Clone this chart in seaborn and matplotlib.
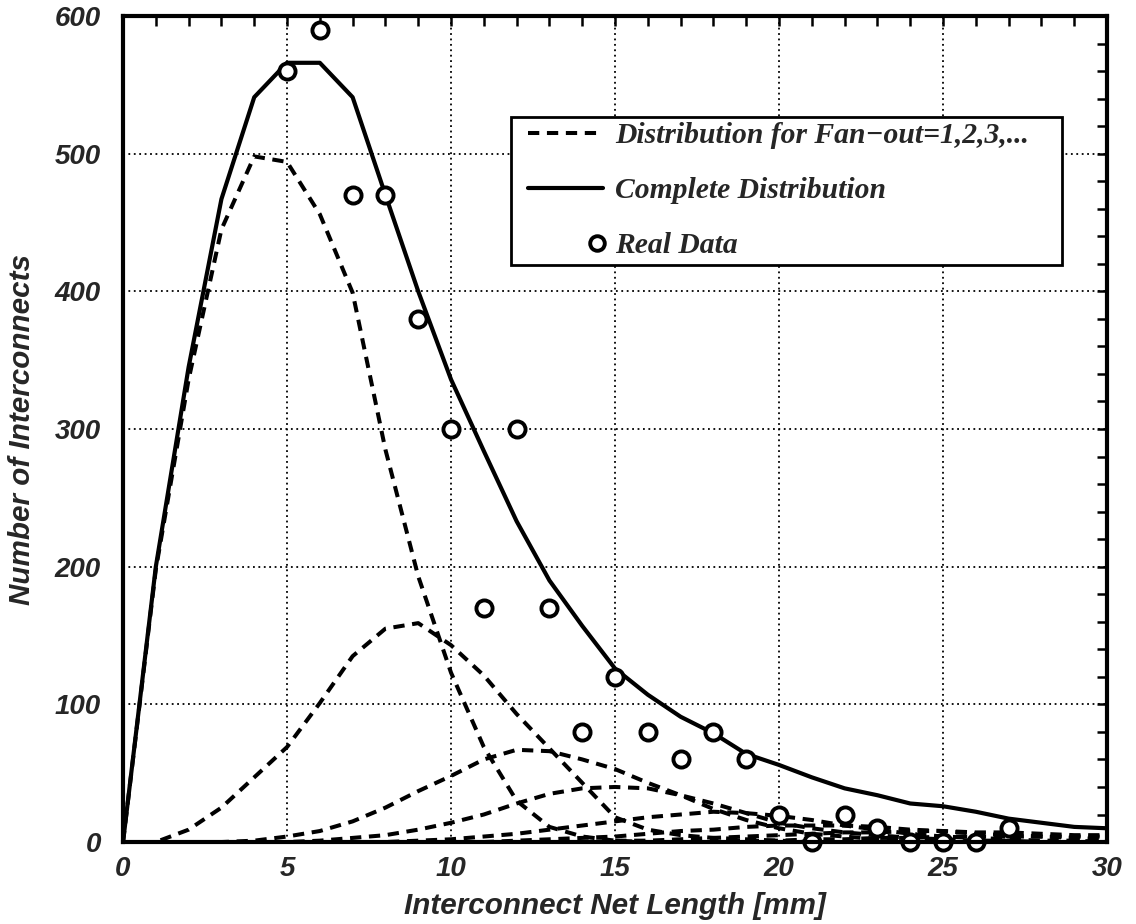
import matplotlib
matplotlib.use("Agg")
import matplotlib.pyplot as plt
import numpy as np
import pandas as pd
import seaborn as sns
from matplotlib.ticker import MultipleLocator
from matplotlib.lines import Line2D
from matplotlib.legend_handler import HandlerLine2D

# Interconnect net length grid [mm]
net_length = list(range(0, 31))

# Complete (summed) wire-length distribution
complete = [0, 200, 345, 467, 541, 566, 566, 541, 470, 400, 336, 284, 233, 190,
            157, 126, 107, 91, 79, 64, 56, 47, 39, 34, 28, 26, 22, 17, 14, 11, 10]

# Partial distributions for fan-out = 1, 2, 3, ...
fanout_1 = [0, 198, 336, 445, 498, 494, 456, 399, 285, 193, 123, 69, 30, 11, 4, 1,
            0, 0, 0, 0, 0, 0, 0, 0, 0, 0, 0, 0, 0, 0, 0]
fanout_2 = [0, 0, 9, 25, 47, 69, 101, 135, 155, 159, 143, 121, 93, 68, 43, 18, 9, 5,
            3, 2, 1, 0, 0, 0, 0, 0, 0, 0, 0, 0, 0]
fanout_3 = [0, 0, 0, 0, 1, 4, 8, 15, 25, 37, 48, 60, 67, 66, 60, 53, 43, 34, 24, 16,
            10, 6, 4, 2, 1, 1, 0, 0, 0, 0, 0]
fanout_4 = [0, 0, 0, 0, 0, 0, 1, 3, 5, 9, 14, 20, 28, 35, 39, 40, 39, 34, 28, 21, 14,
            10, 7, 5, 3, 2, 1, 1, 0, 0, 0]
fanout_5 = [0, 0, 0, 0, 0, 0, 0, 0, 0, 1, 2, 4, 6, 9, 12, 15, 18, 20, 22, 21, 19, 16,
            12, 9, 6, 4, 3, 2, 1, 1, 0]
fanout_6 = [0, 0, 0, 0, 0, 0, 0, 0, 0, 0, 0, 0, 1, 2, 3, 4, 6, 8, 9, 11, 12, 12, 12,
            11, 9, 8, 6, 5, 4, 3, 2]
fanout_7 = [0, 0, 0, 0, 0, 0, 0, 0, 0, 0, 0, 0, 0, 0, 0, 1, 1, 2, 3, 4, 5, 6, 7, 7, 8,
            8, 7, 7, 6, 5, 5]
fanout_8 = [0, 0, 0, 0, 0, 0, 0, 0, 0, 0, 0, 0, 0, 0, 0, 0, 0, 0, 0, 1, 1, 2, 2, 3, 3,
            4, 4, 4, 4, 4, 4]

# Measured net-length histogram
real_length = list(range(5, 28))
real_count = [560, 590, 470, 470, 380, 300, 170, 300, 170, 80, 120, 80, 60, 80, 60,
              20, 0, 20, 10, 0, 0, 0, 10]

legend_labels = ["Distribution for Fan\u2212out=1,2,3,...",
                 "Complete Distribution",
                 "Real Data"]
x_label = "Interconnect Net Length [mm]"
y_label = "Number of Interconnects"

fanouts = [fanout_1, fanout_2, fanout_3, fanout_4,
           fanout_5, fanout_6, fanout_7, fanout_8]
partial_df = pd.DataFrame({
    "length": np.tile(net_length, len(fanouts)),
    "count": np.concatenate(fanouts),
    "fanout": np.repeat(np.arange(1, len(fanouts) + 1), len(net_length)),
})
complete_df = pd.DataFrame({"length": net_length, "count": complete})
real_df = pd.DataFrame({"length": real_length, "count": real_count})


class InsetLineHandler(HandlerLine2D):
    """Legend handler for lines that leaves a left margin in the handle slot."""

    def __init__(self, lead=0.14, **kw):
        super().__init__(**kw)
        self.lead = lead

    def get_xdata(self, legend, xdescent, ydescent, width, height, fontsize):
        x0 = -xdescent + width * self.lead
        x1 = -xdescent + width
        return np.array([x0, x1]), [(x0 + x1) / 2]


class EndMarkerHandler(HandlerLine2D):
    """Legend handler that puts a single marker near the right end of the slot."""

    def __init__(self, marker_at=0.935, **kw):
        super().__init__(**kw)
        self.marker_at = marker_at

    def get_xdata(self, legend, xdescent, ydescent, width, height, fontsize):
        m = -xdescent + width * self.marker_at
        return np.array([m - 1.0, m + 1.0]), [m]


sns.set_theme(style="white")
plt.rcParams["font.family"] = ["Liberation Sans", "DejaVu Sans"]

fig = plt.figure(figsize=(11.36, 9.24), dpi=100)
ax = fig.add_axes([0.1083, 0.0887, 0.8662, 0.894])

dash_style = (0, (2.8, 1.9))
dash_w = 2.9
solid_w = 3.0

sns.lineplot(data=partial_df, x="length", y="count", units="fanout",
             estimator=None, color="black", lw=dash_w, linestyle=dash_style,
             ax=ax, legend=False, zorder=3)
sns.lineplot(data=complete_df, x="length", y="count", color="black",
             lw=solid_w, ax=ax, legend=False, zorder=4)
sns.scatterplot(data=real_df, x="length", y="count", marker="o", s=135,
                facecolor="white", edgecolor="black", linewidth=2.8,
                ax=ax, legend=False, zorder=5, clip_on=False)

ax.set_xlim(0, 30)
ax.set_ylim(0, 600)
ax.xaxis.set_major_locator(MultipleLocator(5))
ax.xaxis.set_minor_locator(MultipleLocator(1))
ax.yaxis.set_major_locator(MultipleLocator(100))
ax.yaxis.set_minor_locator(MultipleLocator(20))

ax.tick_params(which="both", direction="in", top=True, right=True,
               color="black", width=1.8)
ax.tick_params(which="major", length=7, labelsize=20)
ax.tick_params(axis="y", which="major", pad=16)
ax.tick_params(axis="x", which="major", pad=10)
ax.tick_params(which="minor", length=7)
for lab in ax.get_xticklabels() + ax.get_yticklabels():
    lab.set_fontweight("bold")
    lab.set_fontstyle("italic")

ax.grid(True, which="major", color="black", linestyle=(0, (1, 2)), linewidth=1.3)
for sp in ax.spines.values():
    sp.set_visible(True)
    sp.set_color("black")
    sp.set_linewidth(3.0)
    sp.set_zorder(6)

ax.set_xlabel(x_label, fontsize=21.3, fontweight="bold", fontstyle="italic",
              va="center")
ax.set_ylabel(y_label, fontsize=21.3, fontweight="bold", fontstyle="italic",
              va="center")
ax.xaxis.set_label_coords(0.5, -0.078)
ax.yaxis.set_label_coords(-0.1026, 0.5)

handles = [
    Line2D([], [], color="black", lw=dash_w, linestyle=dash_style),
    Line2D([], [], color="black", lw=solid_w),
    Line2D([], [], color="black", lw=0, marker="o", markersize=10.5,
           markerfacecolor="white", markeredgewidth=2.8),
]
handler_map = {handles[0]: InsetLineHandler(numpoints=1),
               handles[1]: InsetLineHandler(numpoints=1),
               handles[2]: EndMarkerHandler(numpoints=1)}
leg = ax.legend(handles, legend_labels, loc="upper left",
                bbox_to_anchor=(0.394, 0.5, 0.56, 0.378), mode="expand",
                borderaxespad=0,
                prop={"family": "Liberation Serif", "weight": "bold",
                      "style": "italic", "size": 21.3},
                frameon=True, fancybox=False, framealpha=1, edgecolor="black",
                handlelength=2.94, handletextpad=0.40, borderpad=0.18,
                labelspacing=0.95, numpoints=1, handler_map=handler_map)
leg.get_frame().set_linewidth(2.0)
leg.set_zorder(7)

fig.savefig("out.png", dpi=100)
